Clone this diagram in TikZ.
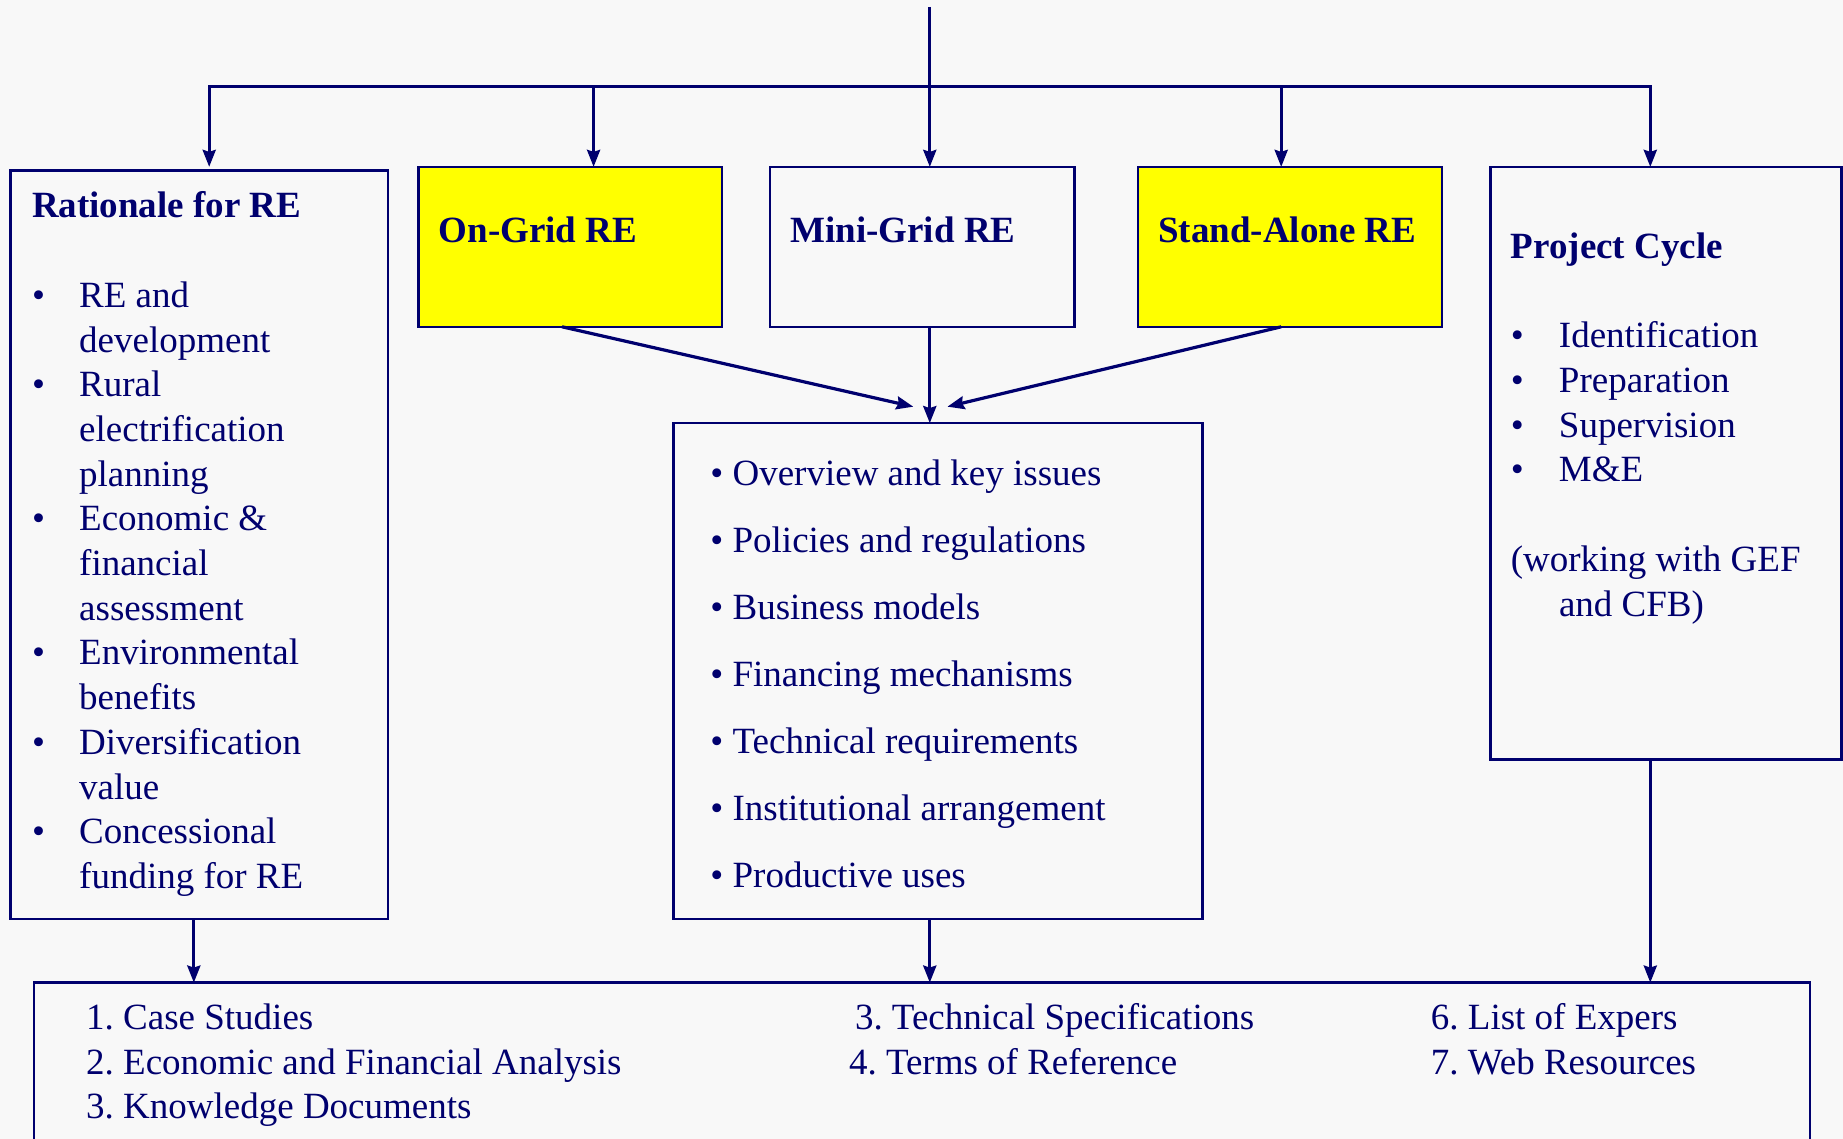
\documentclass[tikz,border=0pt]{standalone}
\usepackage{fontspec}
\setmainfont{Liberation Serif}
\usetikzlibrary{arrows.meta,calc,positioning}
\definecolor{deepblue}{RGB}{0,0,110}
\definecolor{paper}{RGB}{248,248,248}
\definecolor{hilite}{RGB}{255,255,0}
\frenchspacing

\begin{document}
\begin{tikzpicture}[x=0.5pt,y=-0.5pt,
    box/.style={draw=deepblue,line width=1.2pt,inner sep=0pt,outer sep=0pt,anchor=north west},
    hot/.style={box,fill=hilite},
    txt/.style={text=deepblue,inner sep=0pt,anchor=base west,font=\fontsize{18.5}{22.35}\selectfont},
    wire/.style={draw=deepblue,line width=1.6pt},
    arr/.style={wire,-{Stealth[length=8.5pt,width=6.5pt,inset=1pt]}}]

    \fill[paper] (0,0) rectangle (1843,1139);
    \useasboundingbox (0,0) rectangle (1843,1139);

    % boxes
    \node (rat) [box,minimum width=188.65pt,minimum height=374.4pt] at (10.6,170.4) {};
    \node (ongrid) [hot,minimum width=151.65pt,minimum height=79.95pt] at (418.4,166.9) {};
    \node (minigrid) [box,minimum width=152.2pt,minimum height=79.95pt] at (769.9,166.9) {};
    \node (standalone) [hot,minimum width=152.2pt,minimum height=79.95pt] at (1137.8,166.9) {};
    \node (cycle) [box,minimum width=175.55pt,minimum height=296.2pt] at (1490.4,166.9) {};
    \node (topics) [box,minimum width=264.45pt,minimum height=248.05pt] at (673.5,423.1) {};
    \node (tools) [box,minimum width=887.95pt,minimum height=95pt] at (34.1,982.6) {};

    % texts
    \node (rattext) [txt] at (31.7,218) {\begin{tabular}[t]{@{}p{23.55pt}@{}l@{}}
        \multicolumn{2}{@{}l@{}}{\textbf{Rationale for RE}}\\
        & \\
        \textbullet & RE and\\
        & development\\
        \textbullet & Rural\\
        & electrification\\
        & planning\\
        \textbullet & Economic \&\\
        & financial\\
        & assessment\\
        \textbullet & Environmental\\
        & benefits\\
        \textbullet & Diversification\\
        & value\\
        \textbullet & Concessional\\
        & funding for RE
    \end{tabular}};
    \node (ongridtext) [txt] at (438.4,242.5) {\textbf{On-Grid RE}};
    \node (minigridtext) [txt] at (789.9,242.5) {\textbf{Mini-Grid RE}};
    \node (standalonetext) [txt] at (1157.8,242.5) {\textbf{Stand-Alone RE}};
    \node (cycletext) [txt] at (1510.4,258.5) {\begin{tabular}[t]{@{}p{24.1pt}@{}l@{}}
        \multicolumn{2}{@{}l@{}}{\textbf{Project Cycle}}\\
        & \\
        \textbullet & Identification\\
        \textbullet & Preparation\\
        \textbullet & Supervision\\
        \textbullet & M\&E\\
        & \\
        \multicolumn{2}{@{}l@{}}{(working with GEF}\\
        & and CFB)
    \end{tabular}};
    \node (topicstext) [txt] at (710,485.5) {\renewcommand\arraystretch{1.5}%
      \begin{tabular}[t]{@{}l@{}}
        \textbullet\ Overview and key issues\\
        \textbullet\ Policies and regulations\\
        \textbullet\ Business models\\
        \textbullet\ Financing mechanisms\\
        \textbullet\ Technical requirements\\
        \textbullet\ Institutional arrangement\\
        \textbullet\ Productive uses
    \end{tabular}};
    \node (toolsA) [txt] at (85.8,1029.5) {\begin{tabular}[t]{@{}l@{}}
        1. Case Studies\\
        2. Economic and Financial Analysis\\
        3. Knowledge Documents
    \end{tabular}};
    \node (toolsB) [txt] at (848.6,1029.5) {\begin{tabular}[t]{@{}l@{}}
        \hspace*{3pt}3. Technical Specifications\\
        4. Terms of Reference
    \end{tabular}};
    \node (toolsC) [txt] at (1430.5,1029.5) {\begin{tabular}[t]{@{}l@{}}
        6. List of Expers\\
        7. Web Resources
    \end{tabular}};

    % top tree
    \coordinate (feed) at (929.8,7);
    \coordinate (bus1) at (209.2,86.5);
    \coordinate (bus2) at (593.6,86.5);
    \coordinate (bus3) at (929.8,86.5);
    \coordinate (bus4) at (1281.2,86.5);
    \coordinate (bus5) at (1650.3,86.5);
    \draw [wire] (feed) -- (bus3);
    \draw [arr] (bus3) -- (bus1) -- (bus1 |- ongrid.north);
    \draw [arr] (bus3) -- (bus5) -- (bus5 |- cycle.north);
    \draw [arr] (bus2) -- (bus2 |- ongrid.north);
    \draw [arr] (bus3) -- (bus3 |- minigrid.north);
    \draw [arr] (bus4) -- (bus4 |- standalone.north);

    % into the topics
    \coordinate (inL) at ($(topics.north -| feed)+(-8.25pt,8.2pt)$);
    \coordinate (inR) at ($(topics.north -| feed)+(8.8pt,8.2pt)$);
    \draw [arr] ([xshift=-4pt]ongrid.south) -- (inL);
    \draw [arr] (minigrid.south -| feed) -- (topics.north -| feed);
    \draw [arr] (standalone.south -| bus4) -- (inR);

    % down to the tools
    \draw [arr] ([xshift=-2.7pt]rat.south) -- ([xshift=-2.7pt]rat.south |- tools.north);
    \draw [arr] (topics.south -| feed) -- (tools.north -| feed);
    \draw [arr] (cycle.south -| bus5) -- (tools.north -| bus5);

\end{tikzpicture}
\end{document}
